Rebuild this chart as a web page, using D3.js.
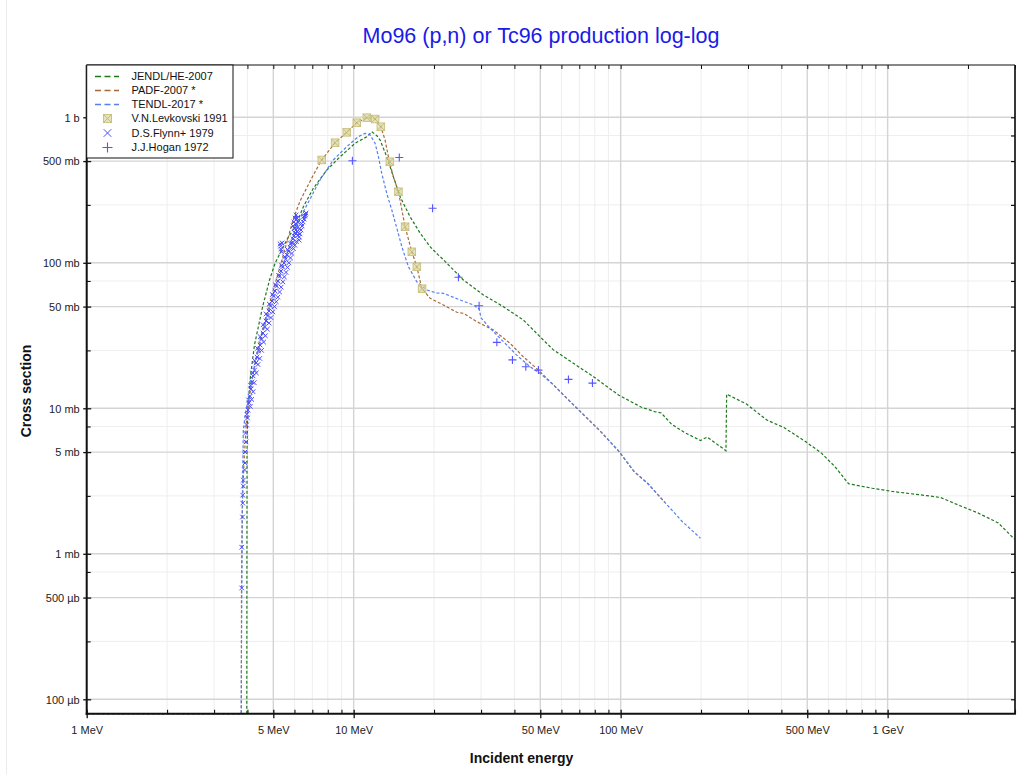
<!DOCTYPE html>
<html><head><meta charset="utf-8">
<script src="https://cdn.jsdelivr.net/npm/d3@7"></script>
<style>body{margin:0;background:#fff;} svg{display:block;}</style>
</head><body>
<svg id="chart" width="1020" height="774"></svg>
<script>
// ---- DATA (energy in MeV, cross section in mb; 0 = below threshold) ----
const jendl = [[1,0],[3.977,0],[3.987,5.16],[4.015,10.3],[4.11,16.9],[4.25,27.2],[4.56,49.9],[4.84,76.2],[5.08,99.7],[5.61,143],[6.12,187],[6.48,243],[7.06,325],[7.93,434],[8.90,536],[10.12,663],[11.2,735],[11.69,796],[12.24,744],[12.56,698],[13.30,536],[14.08,391],[14.92,285],[16.27,207],[17.74,160],[19.33,129],[20.77,113],[21.68,105],[25.76,76.2],[30.62,60.1],[36.38,49.9],[43.23,40.4],[49.93,31.0],[56.0,25.2],[66.5,20.4],[79.1,16.5],[88.8,14.1],[98.5,12.3],[119.2,10.2],[134,9.49],[142,9.28],[155,7.78],[174,6.80],[199,6.01],[211,6.34],[248,5.11],[249.5,12.5],[296,10.7],[353,8.30],[409,7.37],[495,5.87],[565,4.92],[635,3.97],[714,3.03],[877,2.82],[1045,2.68],[1401,2.51],[1576,2.44],[1879,2.13],[2177,1.91],[2597,1.63],[3000,1.25]];
const padf = [[1,0],[3.796,0],[3.80,0.564],[3.835,2.34],[3.886,4.41],[3.977,8.75],[4.09,12.7],[4.22,18.3],[4.42,28.1],[4.73,45.0],[5.00,65.0],[5.30,94.0],[5.61,137],[5.94,200],[6.30,266],[6.67,327],[7.06,401],[7.59,509],[8.52,669],[9.42,788],[10.27,918],[11.20,994],[12.03,973],[12.64,862],[13.11,698],[13.61,495],[14.08,391],[14.71,308],[15.58,177],[16.51,119],[17.24,94],[17.99,66.8],[19.33,57.0],[21.68,51.3],[24.34,45.7],[25.76,45.0],[28.92,39.4],[33.38,34.5],[38.5,28.0],[43.2,22.6],[49.2,18.3],[56.0,14.5],[62.9,11.7],[83.8,6.98],[98.5,5.06],[112.4,3.67],[126.4,3.04],[146.3,2.26]];
const tendl = [[1,0],[3.79,0],[3.82,1.71],[3.86,7.1],[3.95,9.73],[4.09,13.4],[4.27,19.9],[4.54,31.9],[4.86,49.7],[5.16,70.3],[5.49,100],[5.88,148],[6.30,203],[6.86,274],[7.48,371],[8.39,509],[9.42,628],[10.41,736],[11.03,776],[11.52,756],[12.03,663],[12.38,536],[12.74,412],[13.30,300],[13.89,231],[14.51,173],[15.15,129],[16.03,94],[17.24,74.1],[18.79,65],[20.48,62.0],[21.68,61.7],[25.04,55.5],[28.09,51.3],[29.5,48.1],[30.0,41.8],[32.4,35.5],[36.4,28.7],[40.8,23.2],[45.8,19.3],[49.9,17.4],[56.0,14.5],[62.9,11.7],[83.8,6.98],[98.5,5.06],[112.4,3.67],[126.4,3.04],[146.3,2.26],[169.4,1.68],[199,1.28]];
const levkovski = [[7.59,509],[8.52,669],[9.42,788],[10.27,918],[11.20,994],[12.03,973],[12.64,862],[13.66,495],[14.71,308],[15.58,177],[16.51,119],[17.24,94],[18.04,66.4]];
const flynn = [[3.808,0.582],[3.808,1.11],[3.835,1.79],[3.842,2.23],[3.842,2.53],[3.862,2.92],[3.862,3.21],[3.902,3.77],[3.919,4.21],[3.919,5.01],[3.953,5.87],[3.936,6.76],[3.970,7.68],[4.004,8.58],[4.021,9.72],[4.056,10.9],[4.092,12.1],[4.127,13.6],[4.163,15.2],[4.199,16.7],[4.254,18.3],[4.309,20.5],[4.347,22.5],[4.403,24.8],[4.460,27.2],[4.518,29.9],[4.577,32.9],[4.637,36.2],[4.696,39.8],[4.758,43.1],[4.820,46.6],[4.883,50.5],[4.946,54.6],[5.011,59.1],[5.076,64.0],[5.142,69.2],[5.210,75.0],[5.278,81.1],[5.346,87.8],[5.416,93.6],[5.486,99.7],[5.559,106],[5.630,113],[5.704,120],[5.778,128],[5.853,137],[5.929,146],[5.981,153],[6.033,160],[6.084,168],[6.137,163],[6.190,155],[6.243,150],[6.298,158],[6.352,168],[6.408,179],[6.463,191],[6.519,200],[6.576,210],[6.633,220],[5.929,179],[5.981,191],[6.033,203],[6.084,213],[6.137,203],[6.190,191],[5.300,135],[5.323,130],[5.346,124],[5.370,119],[5.393,137],[4.10,10.3],[4.20,13.0],[4.32,17.5],[4.45,22.0],[4.60,28.5],[4.75,35.0],[4.90,42.0],[5.05,50.0],[5.20,58.0],[5.35,68.0],[5.50,80.0],[5.65,93.0],[5.80,108],[5.95,125],[6.10,140],[6.25,143],[3.98,9.1],[4.04,11.4],[4.11,14.4],[4.18,17.5],[4.26,21.2],[4.36,25.8],[4.47,31.0],[4.58,37.5],[4.70,44.5],[4.83,52.0],[4.96,60.5],[5.10,70.5],[5.24,82.0],[5.38,96.0],[5.52,110],[5.66,123],[5.80,135],[5.92,138],[6.00,172],[6.06,185],[6.16,176],[6.28,172],[6.38,186],[6.50,208],[6.60,215],[4.15,11.5],[4.24,15.0],[4.38,20.0],[4.52,25.0],[4.67,31.5],[4.82,38.5],[4.98,46.0],[5.13,54.0],[5.28,63.0],[5.43,74.0],[5.58,86.0],[5.72,100],[5.87,116],[6.02,132]];
const hogan = [[9.89,503],[14.82,529],[19.75,237],[24.68,79.5],[29.50,50.7],[34.38,28.4],[39.33,21.5],[44.14,19.3],[49.21,18.3],[63.74,15.8],[78.4,14.9]];

const xMajor = [1,5,10,50,100,500,1000];
const xMajorLabels = ["1 MeV","5 MeV","10 MeV","50 MeV","100 MeV","500 MeV","1 GeV"];
const yMajor = [1000,500,100,50,10,5,1,0.5,0.1];
const yMajorLabels = ["1 b","500 mb","100 mb","50 mb","10 mb","5 mb","1 mb","500 µb","100 µb"];
const yMinor = [750,250,75,25,7.5,2.5,0.75,0.25];

const titleText = "Mo96 (p,n) or Tc96 production log-log";
const xTitle = "Incident energy";
const yTitle = "Cross section";

// ---- LAYOUT ----
const FONT = '"Liberation Sans", Arial, Helvetica, sans-serif';
const W = 1020, H = 774;
const plot = {left: 86.7, right: 1015, top: 65, bottom: 713.7};
const x = d3.scaleLog().domain([1, 3000]).range([plot.left, plot.right]);
const y = d3.scaleLog().domain([0.0796, 2288]).range([plot.bottom, plot.top]).clamp(true);
const yv = v => v > 0 ? y(v) : plot.bottom;

const svg = d3.select("#chart").attr("font-family", FONT);
svg.append("rect").attr("width", W).attr("height", H).attr("fill", "#fff");
svg.append("line").attr("x1", 6.5).attr("x2", 6.5).attr("y1", 0).attr("y2", H).attr("stroke", "#ececec");

// grid
const xAll = x.ticks();
const xMinor = xAll.filter(v => !xMajor.some(m => Math.abs(m - v) < 1e-9));
const grid = svg.append("g");
grid.selectAll(".gxm").data(xMinor).join("line")
  .attr("x1", d => x(d)).attr("x2", d => x(d)).attr("y1", plot.top).attr("y2", plot.bottom)
  .attr("stroke", "#eeeeee").attr("stroke-width", 1);
grid.selectAll(".gym").data(yMinor).join("line")
  .attr("y1", d => y(d)).attr("y2", d => y(d)).attr("x1", plot.left).attr("x2", plot.right)
  .attr("stroke", "#eeeeee").attr("stroke-width", 1);
grid.selectAll(".gxM").data(xMajor).join("line")
  .attr("x1", d => x(d)).attr("x2", d => x(d)).attr("y1", plot.top).attr("y2", plot.bottom)
  .attr("stroke", "#d4d4d4").attr("stroke-width", 1.4);
grid.selectAll(".gyM").data(yMajor).join("line")
  .attr("y1", d => y(d)).attr("y2", d => y(d)).attr("x1", plot.left).attr("x2", plot.right)
  .attr("stroke", "#d4d4d4").attr("stroke-width", 1.4);

// curves
svg.append("clipPath").attr("id", "clip").append("rect")
  .attr("x", plot.left).attr("y", plot.top).attr("width", plot.right - plot.left).attr("height", plot.bottom - plot.top + 1.5);
const line = d3.line().x(d => x(d[0])).y(d => yv(d[1]));
const curves = svg.append("g").attr("clip-path", "url(#clip)");
const series = [
  {data: jendl, color: "#1c7a1c", name: "JENDL/HE-2007"},
  {data: padf, color: "#a8683a", name: "PADF-2007 *"},
  {data: tendl, color: "#5580ee", name: "TENDL-2017 *"}
];
series.forEach(s => {
  curves.append("path").datum(s.data).attr("d", line)
    .attr("fill", "none").attr("stroke", s.color).attr("stroke-width", 1.2)
    .attr("stroke-dasharray", "3,2");
});

// markers
const levColor = "#cbc482";
function levMarker(g, cx, cy, s) {
  g.append("rect").attr("x", cx - s/2).attr("y", cy - s/2).attr("width", s).attr("height", s)
    .attr("fill", "#dcd6a0").attr("fill-opacity", 0.7).attr("stroke", levColor).attr("stroke-width", 1);
  g.append("path").attr("d", `M${cx-s/2},${cy-s/2}L${cx+s/2},${cy+s/2}M${cx+s/2},${cy-s/2}L${cx-s/2},${cy+s/2}`)
    .attr("stroke", "#b8ad6a").attr("stroke-width", 0.7).attr("fill", "none");
}
function crossMarker(g, cx, cy, s, color) {
  g.append("path").attr("d", `M${cx-s},${cy-s}L${cx+s},${cy+s}M${cx+s},${cy-s}L${cx-s},${cy+s}`)
    .attr("stroke", color).attr("stroke-width", 1).attr("fill", "none");
}
function plusMarker(g, cx, cy, s, color) {
  g.append("path").attr("d", `M${cx-s},${cy}L${cx+s},${cy}M${cx},${cy-s}L${cx},${cy+s}`)
    .attr("stroke", color).attr("stroke-width", 1.1).attr("fill", "none");
}
const marks = svg.append("g").attr("clip-path", "url(#clip)");
levkovski.forEach(d => levMarker(marks, x(d[0]), y(d[1]), 7.5));
const flynnColor = "#4a4aff", hoganColor = "#5555ff";
flynn.forEach(d => crossMarker(marks, x(d[0]), y(d[1]), 2.3, flynnColor));
hogan.forEach(d => plusMarker(marks, x(d[0]), y(d[1]), 4, hoganColor));

// frame
const frame = svg.append("g");
frame.append("line").attr("x1", plot.left).attr("x2", plot.right).attr("y1", plot.top).attr("y2", plot.top).attr("stroke", "#111").attr("stroke-width", 1);
frame.append("line").attr("x1", plot.right).attr("x2", plot.right).attr("y1", plot.top).attr("y2", plot.bottom).attr("stroke", "#222").attr("stroke-width", 1.8);
frame.append("line").attr("x1", plot.left).attr("x2", plot.left).attr("y1", plot.top).attr("y2", plot.bottom + 1).attr("stroke", "#111").attr("stroke-width", 2);
frame.append("line").attr("x1", plot.left - 1).attr("x2", plot.right + 0.9).attr("y1", plot.bottom).attr("y2", plot.bottom).attr("stroke", "#111").attr("stroke-width", 2);

// axes
function styleAxis(g) { g.attr("font-family", FONT).attr("font-size", 11); g.select(".domain").remove(); }
const axB = svg.append("g").attr("transform", `translate(0,${plot.bottom})`)
  .call(d3.axisBottom(x).tickValues(xMajor).tickFormat((d, i) => xMajorLabels[i]).tickSize(4));
styleAxis(axB);
axB.selectAll(".tick line").attr("y1", -4).attr("y2", 4.5).attr("stroke", "#111").attr("stroke-width", 1.3);
axB.selectAll(".tick text").attr("y", 13).attr("dy", "0.71em").attr("fill", "#222");
const axBm = svg.append("g").attr("transform", `translate(0,${plot.bottom})`)
  .call(d3.axisBottom(x).tickValues(xMinor).tickFormat("").tickSize(-4));
styleAxis(axBm);
axBm.selectAll(".tick line").attr("stroke", "#111").attr("stroke-width", 1.1);
const axT = svg.append("g").attr("transform", `translate(0,${plot.top})`)
  .call(d3.axisTop(x).tickValues(xAll).tickFormat("").tickSize(-4));
styleAxis(axT);
axT.selectAll(".tick line").attr("stroke", "#111");
const axL = svg.append("g").attr("transform", `translate(${plot.left},0)`)
  .call(d3.axisLeft(y).tickValues(yMajor).tickFormat((d, i) => yMajorLabels[i]).tickSize(4));
styleAxis(axL);
axL.selectAll(".tick line").attr("x1", 4.5).attr("x2", -3.5).attr("stroke", "#111").attr("stroke-width", 1.3);
axL.selectAll(".tick text").attr("x", -7).attr("dy", "0.34em").attr("fill", "#222");
const axLm = svg.append("g").attr("transform", `translate(${plot.left},0)`)
  .call(d3.axisLeft(y).tickValues(yMinor).tickFormat("").tickSize(-4));
styleAxis(axLm);
axLm.selectAll(".tick line").attr("stroke", "#111").attr("stroke-width", 1.1);
const axR = svg.append("g").attr("transform", `translate(${plot.right},0)`)
  .call(d3.axisRight(y).tickValues(yMajor.concat(yMinor)).tickFormat("").tickSize(-4));
styleAxis(axR);
axR.selectAll(".tick line").attr("stroke", "#111").attr("stroke-width", 1.2);

// titles
svg.append("text").attr("x", 541).attr("y", 43).attr("text-anchor", "middle")
  .attr("font-size", 21.5).attr("fill", "#1a1ae8").text(titleText);
svg.append("text").attr("x", 521.5).attr("y", 763).attr("text-anchor", "middle")
  .attr("font-size", 14).attr("font-weight", "bold").attr("fill", "#111").text(xTitle);
svg.append("text").attr("transform", "translate(31,391) rotate(-90)").attr("text-anchor", "middle")
  .attr("font-size", 14).attr("font-weight", "bold").attr("fill", "#111").text(yTitle);

// legend
const lg = svg.append("g");
lg.append("rect").attr("x", plot.left).attr("y", plot.top).attr("width", 233 - plot.left).attr("height", 158 - plot.top)
  .attr("fill", "#fff").attr("stroke", "#111").attr("stroke-width", 1);
const rowY = [76.5, 90.5, 104.5, 118.5, 133, 147.5];
series.forEach((s, i) => {
  lg.append("line").attr("x1", 95).attr("x2", 119).attr("y1", rowY[i]).attr("y2", rowY[i])
    .attr("stroke", s.color).attr("stroke-width", 1.6).attr("stroke-dasharray", "6,3.5");
});
levMarker(lg, 107.5, rowY[3], 8);
crossMarker(lg, 107.5, rowY[4], 3.8, flynnColor);
plusMarker(lg, 107.5, rowY[5], 5, hoganColor);
const legNames = series.map(s => s.name).concat(["V.N.Levkovski 1991", "D.S.Flynn+ 1979", "J.J.Hogan 1972"]);
legNames.forEach((n, i) => {
  lg.append("text").attr("x", 131.5).attr("y", rowY[i]).attr("dy", "0.35em")
    .attr("font-size", 11).attr("fill", "#111").text(n);
});
</script>
</body></html>
